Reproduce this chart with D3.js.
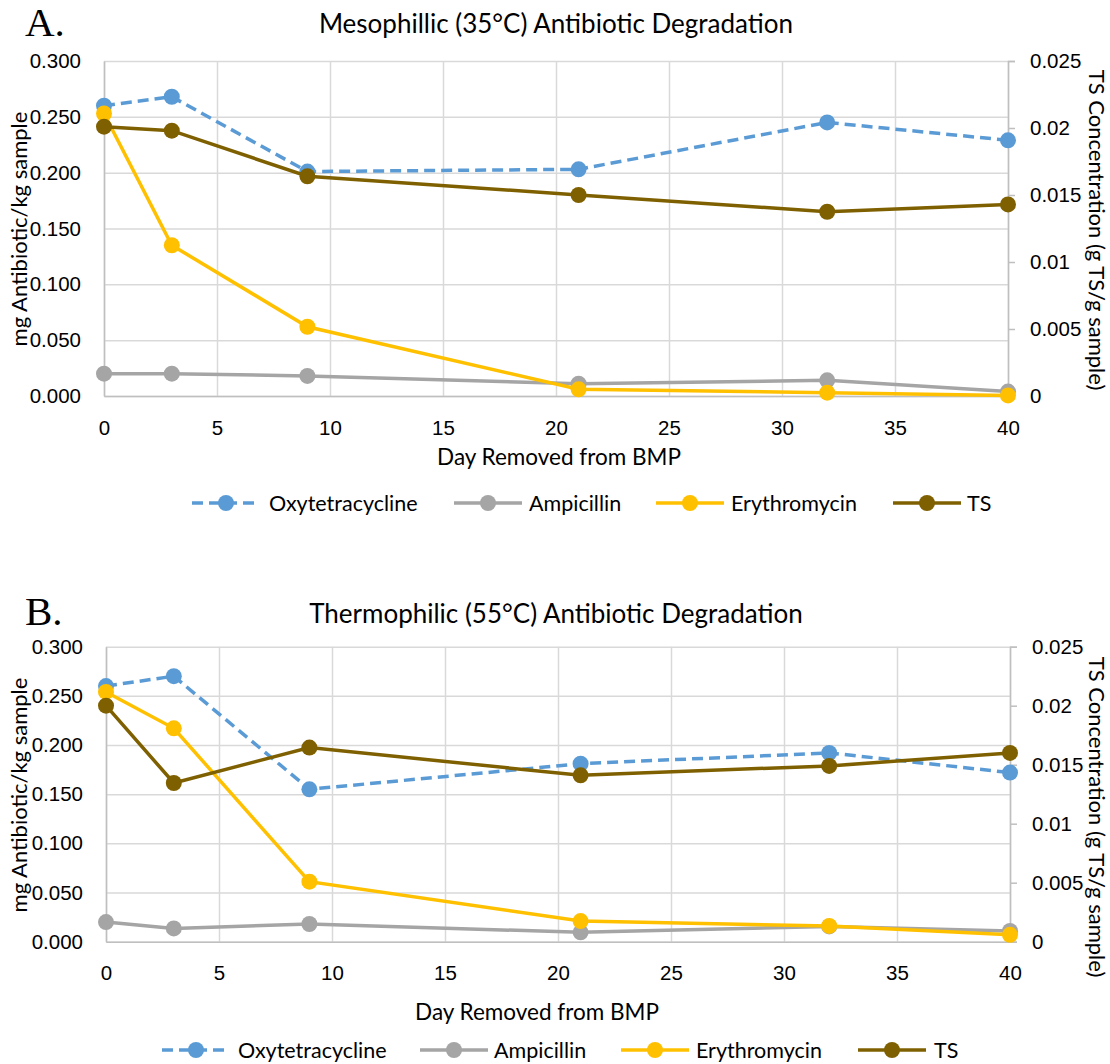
<!DOCTYPE html>
<html>
<head>
<meta charset="utf-8">
<script src="https://cdn.jsdelivr.net/npm/d3@7"></script>
<style>
  body { margin: 0; background: #fff; }
  svg { display: block; font-family: Lato, "Open Sans", sans-serif; }
</style>
</head>
<body>
<script>
// sampling days and axis ticks
var days = [0, 3, 9, 21, 32, 40];
var xTicks = [0, 5, 10, 15, 20, 25, 30, 35, 40];
var leftTicks = [0, 0.05, 0.1, 0.15, 0.2, 0.25, 0.3];
var rightTicks = [0, 0.005, 0.01, 0.015, 0.02, 0.025];
var seriesNames = ["Oxytetracycline", "Ampicillin", "Erythromycin", "TS"];

// A. mesophillic (mg antibiotic / kg sample, TS in g TS / g sample)
var oxyA = [0.260, 0.268, 0.201, 0.203, 0.245, 0.229];
var ampA = [0.020, 0.020, 0.018, 0.011, 0.014, 0.004];
var eryA = [0.253, 0.135, 0.062, 0.006, 0.003, 0.0005];
var tsA = [0.0201, 0.0198, 0.0164, 0.0150, 0.01375, 0.0143];

// B. thermophilic
var oxyB = [0.260, 0.270, 0.155, 0.181, 0.192, 0.172];
var ampB = [0.020, 0.0135, 0.018, 0.0095, 0.0155, 0.011];
var eryB = [0.254, 0.217, 0.061, 0.021, 0.016, 0.007];
var tsB = [0.0200, 0.01345, 0.01645, 0.0141, 0.0149, 0.0160];

var colors = ["#5b9bd5", "#a5a5a5", "#ffc000", "#7f6000"];

var svg = d3.select("body").append("svg")
  .attr("width", 1110)
  .attr("height", 1064);

drawPanel({
  letter: "A.", letterY: 36,
  title: "Mesophillic (35°C) Antibiotic Degradation", titleX: 556, titleY: 33,
  x0: 104, x1: 1008, top: 61, bottom: 396,
  xTitleX: 559, xTitleY: 465, yTitleY: 229, y2TitleY: 230,
  legendY: 503, legendMarks: [226, 488, 690, 927], legendText: [269, 529, 731, 967],
  series: [oxyA, ampA, eryA, tsA]
});

drawPanel({
  letter: "B.", letterY: 625,
  title: "Thermophilic (55°C) Antibiotic Degradation", titleX: 556, titleY: 623,
  x0: 106, x1: 1010, top: 646.7, bottom: 941.7,
  xTitleX: 537, xTitleY: 1020, yTitleY: 795, y2TitleY: 817,
  legendY: 1050, legendMarks: [196, 454, 655, 892], legendText: [238, 494, 696, 934],
  series: [oxyB, ampB, eryB, tsB]
});

function drawPanel(c) {
  var g = svg.append("g");

  var x = d3.scaleLinear().domain([0, 40]).range([c.x0, c.x1]);
  var y = d3.scaleLinear().domain([0, 0.3]).range([c.bottom, c.top]);
  var y2 = d3.scaleLinear().domain([0, 0.025]).range([c.bottom, c.top]);

  // panel letter and title
  g.append("text")
    .attr("x", 25).attr("y", c.letterY)
    .style("font-family", "'Liberation Serif', serif")
    .style("font-size", "41px")
    .text(c.letter);

  g.append("text")
    .attr("x", c.titleX).attr("y", c.titleY)
    .attr("text-anchor", "middle")
    .style("font-size", "26px")
    .attr("fill", "#000")
    .text(c.title);

  // gridlines
  g.append("g")
    .attr("transform", "translate(" + c.x0 + ",0)")
    .call(d3.axisLeft(y).tickValues(leftTicks).tickSize(-(c.x1 - c.x0)).tickFormat(""))
    .call(function(s) {
      s.select(".domain").remove();
      s.selectAll("line").attr("stroke", "#d9d9d9").attr("stroke-width", 1.5);
    });

  g.append("g")
    .attr("transform", "translate(0," + c.bottom + ")")
    .call(d3.axisBottom(x).tickValues(xTicks).tickSize(-(c.bottom - c.top)).tickFormat(""))
    .call(function(s) {
      s.select(".domain").remove();
      s.selectAll("line").attr("stroke", "#d9d9d9").attr("stroke-width", 1.5);
    });

  // left axis
  g.append("g")
    .attr("transform", "translate(" + c.x0 + ",0)")
    .call(d3.axisLeft(y).tickValues(leftTicks).tickSize(0).tickPadding(23).tickFormat(d3.format(".3f")))
    .call(function(s) {
      s.select(".domain").attr("stroke", "#bfbfbf").attr("stroke-width", 1.5);
      s.selectAll("text").style("font-size", "20.5px").attr("fill", "#000");
    });

  // bottom axis
  g.append("g")
    .attr("transform", "translate(0," + c.bottom + ")")
    .call(d3.axisBottom(x).tickValues(xTicks).tickSize(0).tickPadding(24))
    .call(function(s) {
      s.select(".domain").attr("stroke", "#bfbfbf").attr("stroke-width", 1.5);
      s.selectAll("text").style("font-size", "20.5px").attr("fill", "#000");
    });

  // right (secondary) axis
  g.append("g")
    .attr("transform", "translate(" + c.x1 + ",0)")
    .call(d3.axisRight(y2).tickValues(rightTicks).tickSize(7).tickPadding(15)
      .tickFormat(function(d) { return String(+d.toFixed(3)); }))
    .call(function(s) {
      s.select(".domain").attr("stroke", "#bfbfbf").attr("stroke-width", 1.5);
      s.selectAll("line").attr("stroke", "#bfbfbf").attr("stroke-width", 1.5);
      s.selectAll("text").style("font-size", "20.5px").attr("fill", "#000");
    });

  // axis titles
  g.append("text")
    .attr("transform", "translate(19," + c.yTitleY + ") rotate(-90)")
    .attr("text-anchor", "middle")
    .attr("dy", "0.35em")
    .style("font-size", "22px")
    .text("mg Antibiotic/kg sample");

  g.append("text")
    .attr("transform", "translate(1097," + c.y2TitleY + ") rotate(90)")
    .attr("text-anchor", "middle")
    .attr("dy", "0.35em")
    .style("font-size", "22px")
    .text("TS Concentration (g TS/g sample)");

  g.append("text")
    .attr("x", c.xTitleX).attr("y", c.xTitleY)
    .attr("text-anchor", "middle")
    .style("font-size", "22.5px")
    .text("Day Removed from BMP");

  // series lines and markers
  c.series.forEach(function(vals, i) {
    var yy = i == 3 ? y2 : y;
    var pts = days.map(function(d, j) { return [d, vals[j]]; });
    var line = d3.line()
      .x(function(p) { return x(p[0]); })
      .y(function(p) { return yy(p[1]); });

    g.append("path")
      .datum(pts)
      .attr("d", line)
      .attr("fill", "none")
      .attr("stroke", colors[i])
      .attr("stroke-width", 3.5)
      .attr("stroke-dasharray", i == 0 ? "11,6" : null);

    g.selectAll(".m" + i)
      .data(pts)
      .enter()
      .append("circle")
      .attr("class", "m" + i)
      .attr("cx", function(p) { return x(p[0]); })
      .attr("cy", function(p) { return yy(p[1]); })
      .attr("r", 8)
      .attr("fill", colors[i]);
  });

  // legend
  seriesNames.forEach(function(name, i) {
    var m = c.legendMarks[i];
    g.append("line")
      .attr("x1", m - 34).attr("x2", m + 34)
      .attr("y1", c.legendY).attr("y2", c.legendY)
      .attr("stroke", colors[i])
      .attr("stroke-width", 3.5)
      .attr("stroke-dasharray", i == 0 ? "11,6" : null);
    g.append("circle")
      .attr("cx", m).attr("cy", c.legendY)
      .attr("r", 8)
      .attr("fill", colors[i]);
    g.append("text")
      .attr("x", c.legendText[i]).attr("y", c.legendY)
      .attr("dy", "0.35em")
      .style("font-size", "21.5px")
      .text(name);
  });
}
</script>
</body>
</html>
